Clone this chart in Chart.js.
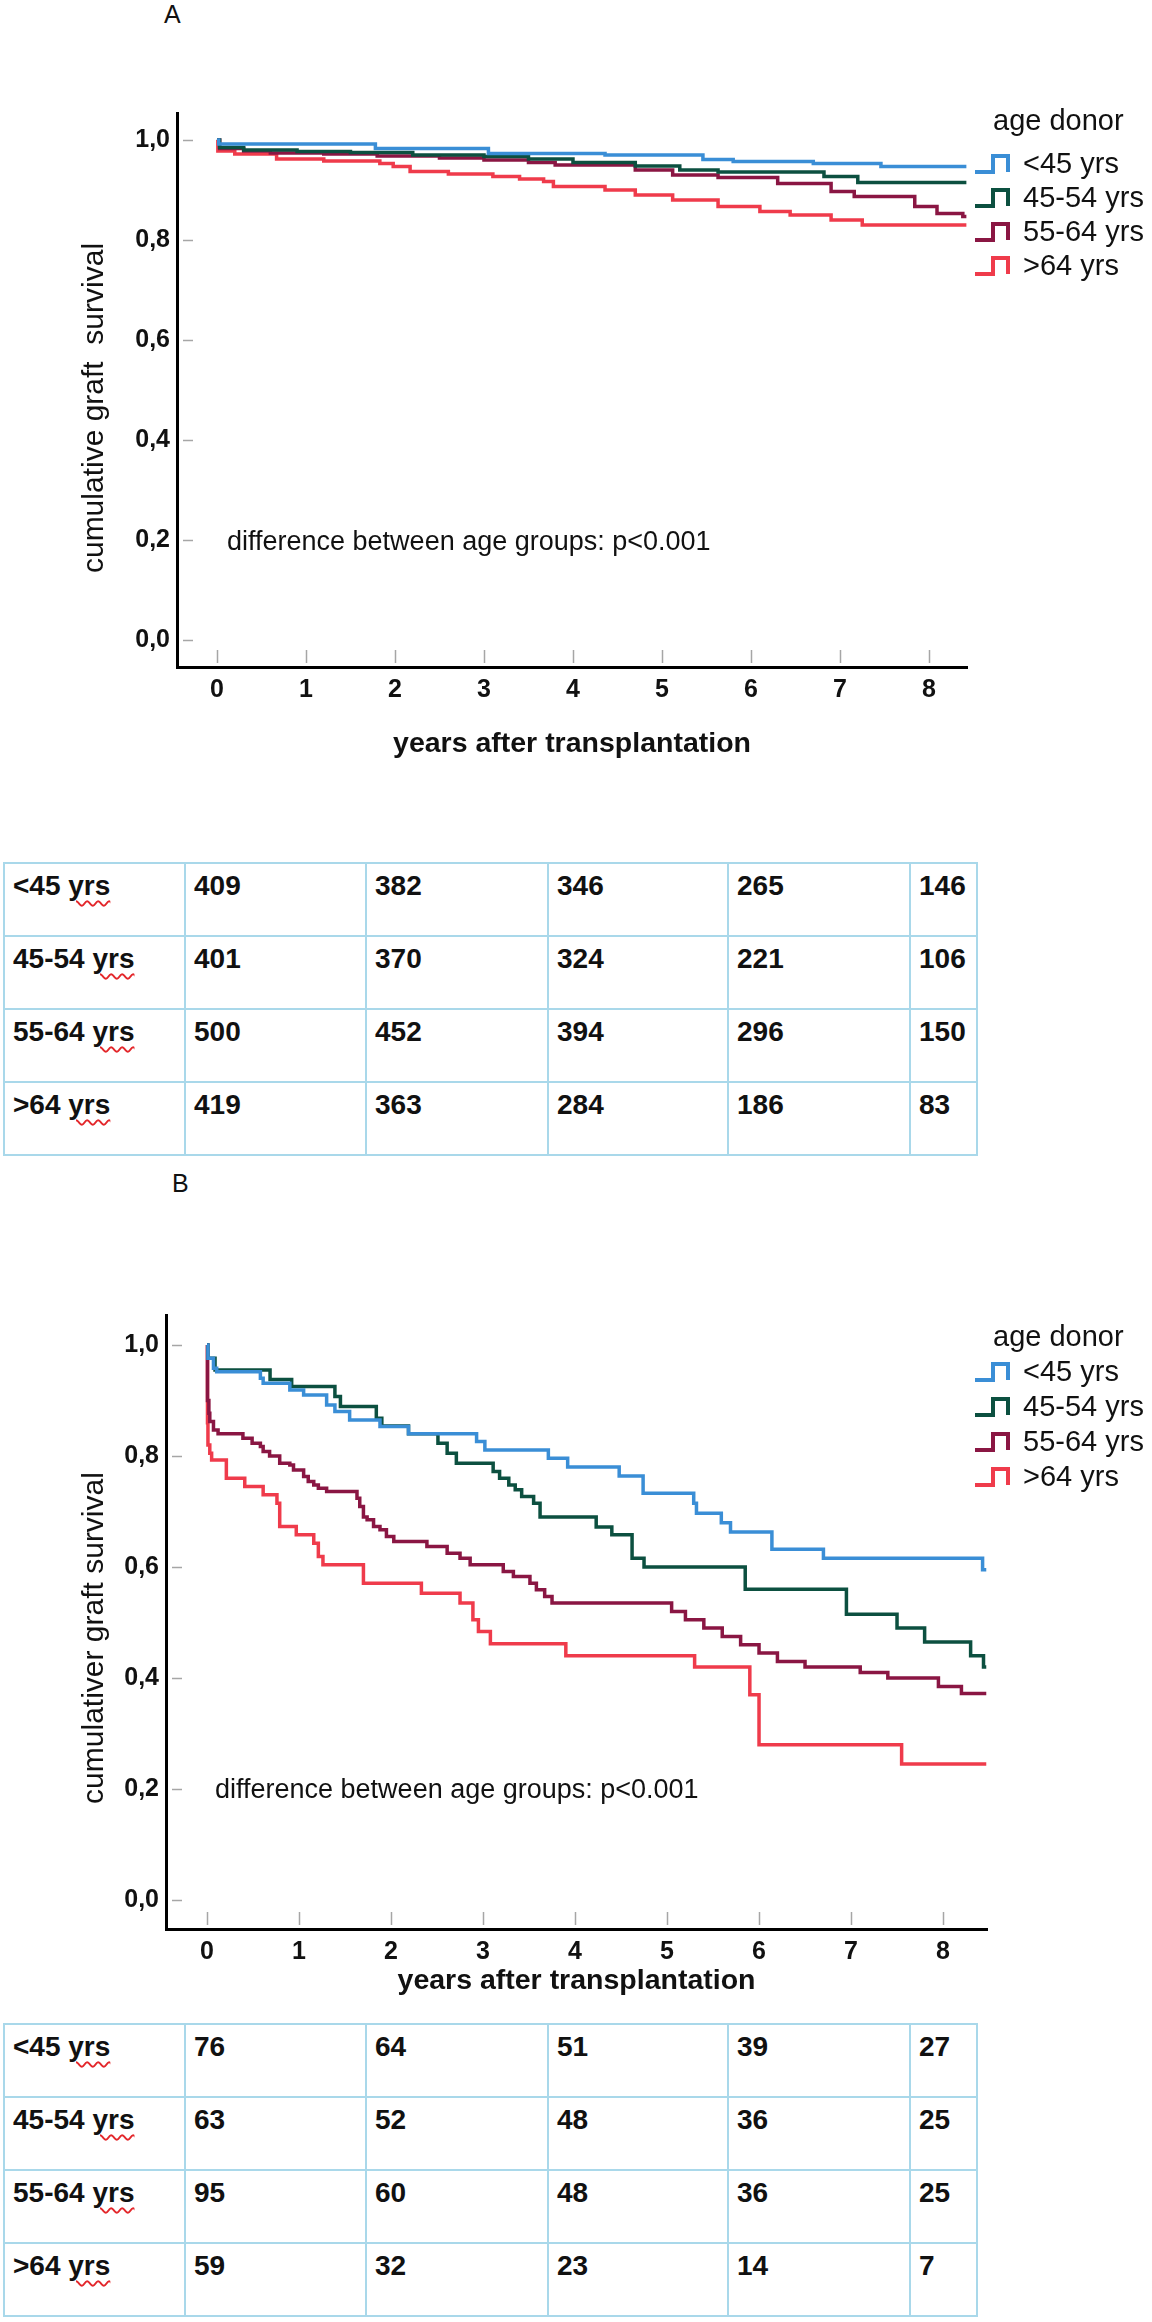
<!DOCTYPE html>
<html><head><meta charset="utf-8">
<script src="https://cdn.jsdelivr.net/npm/chart.js@4.4.1/dist/chart.umd.min.js"></script>
<style>
html,body{margin:0;padding:0;background:#fff;}
body{width:1152px;height:2322px;position:relative;overflow:hidden;font-family:"Liberation Sans",Arial,Helvetica,sans-serif;}
.panel{position:absolute;font-size:25px;line-height:29px;color:#111;}
canvas{position:absolute;left:0;}
table{position:absolute;left:3px;width:973px;border-collapse:collapse;table-layout:fixed;font-weight:bold;font-size:28px;color:#111;}
tr{height:73px;}
td{border:2px solid #a9d8ea;vertical-align:top;padding:6px 0 0 8px;line-height:32px;white-space:nowrap;overflow:hidden;}
.sp{text-decoration:underline wavy #e3262a;text-decoration-thickness:1.5px;text-underline-offset:5px;}
</style></head><body>
<div class="panel" style="left:164px;top:0px;">A</div>
<canvas id="chartA" width="1152" height="800" style="top:0;width:1152px;height:800px"></canvas>
<table id="tabA" style="top:862px"></table>
<div class="panel" style="left:172px;top:1169px;">B</div>
<canvas id="chartB" width="1152" height="830" style="top:1190px;width:1152px;height:830px"></canvas>
<table id="tabB" style="top:2023px"></table>
<script>
// ---------- data ----------
const groups = ['<45 yrs', '45-54 yrs', '55-64 yrs', '>64 yrs'];
const xTickValues = [0, 1, 2, 3, 4, 5, 6, 7, 8];
const yTickValues = [0, 0.2, 0.4, 0.6, 0.8, 1.0];
const legendTitle = 'age donor';
const xAxisTitle = 'years after transplantation';
const noteText = 'difference between age groups: p<0.001';

// Panel A (Kaplan-Meier, cumulative graft survival)
const tA_lt45 = [0, 0.02, 1.78, 3.05, 4.36, 5.46, 5.8, 6.7, 7.46, 8.42];
const sA_lt45 = [1.0, 0.992, 0.983, 0.973, 0.97, 0.961, 0.957, 0.953, 0.947, 0.947];
const tA_45_54 = [0, 0.03, 0.3, 0.9, 1.5, 2.2, 3.0, 3.5, 4.0, 4.7, 5.2, 5.63, 6.82, 7.2, 8.42];
const sA_45_54 = [1.0, 0.985, 0.98, 0.977, 0.975, 0.97, 0.967, 0.962, 0.955, 0.948, 0.94, 0.936, 0.927, 0.915, 0.915];
const tA_55_64 = [0, 0.03, 0.3, 0.6, 1.2, 1.8, 2.5, 3.0, 3.5, 3.8, 4.7, 5.12, 5.63, 6.3, 6.9, 7.16, 7.84, 8.09, 8.38, 8.42];
const sA_55_64 = [1.0, 0.983, 0.978, 0.974, 0.972, 0.968, 0.964, 0.96, 0.955, 0.95, 0.94, 0.93, 0.925, 0.913, 0.897, 0.887, 0.867, 0.853, 0.847, 0.847];
const tA_gt64 = [0, 0.01, 0.2, 0.67, 1.2, 1.83, 1.98, 2.17, 2.6, 3.1, 3.4, 3.67, 3.78, 4.36, 4.7, 5.12, 5.63, 6.1, 6.44, 6.9, 7.25, 8.42];
const sA_gt64 = [1.0, 0.978, 0.972, 0.962, 0.958, 0.953, 0.947, 0.937, 0.932, 0.927, 0.922, 0.917, 0.907, 0.9, 0.89, 0.88, 0.867, 0.857, 0.85, 0.84, 0.83, 0.83];

// Panel B
const tB_lt45 = [0, 0.01, 0.07, 0.105, 0.58, 0.61, 0.90, 1.05, 1.30, 1.39, 1.55, 1.88, 2.19, 2.93, 3.02, 3.71, 3.92, 4.48, 4.74, 5.29, 5.32, 5.59, 5.69, 6.14, 6.70, 8.43, 8.47];
const sB_lt45 = [1.0, 0.976, 0.958, 0.952, 0.94, 0.931, 0.919, 0.91, 0.892, 0.88, 0.865, 0.853, 0.84, 0.826, 0.811, 0.796, 0.78, 0.764, 0.733, 0.715, 0.697, 0.68, 0.663, 0.632, 0.616, 0.595, 0.595];
const tB_45_54 = [0, 0.01, 0.087, 0.685, 0.92, 1.39, 1.45, 1.84, 1.90, 2.19, 2.51, 2.61, 2.71, 3.11, 3.18, 3.28, 3.35, 3.42, 3.55, 3.62, 4.23, 4.40, 4.62, 4.75, 5.85, 6.95, 7.5, 7.8, 8.3, 8.44, 8.47];
const sB_45_54 = [1.0, 0.976, 0.955, 0.938, 0.925, 0.907, 0.889, 0.868, 0.854, 0.84, 0.823, 0.805, 0.787, 0.772, 0.76, 0.748, 0.739, 0.727, 0.715, 0.69, 0.672, 0.658, 0.616, 0.60, 0.56, 0.515, 0.49, 0.465, 0.44, 0.42, 0.42];
const tB_55_64 = [0, 0.005, 0.02, 0.03, 0.07, 0.12, 0.39, 0.49, 0.58, 0.61, 0.68, 0.79, 0.90, 0.94, 1.05, 1.10, 1.16, 1.21, 1.30, 1.63, 1.66, 1.70, 1.74, 1.81, 1.88, 1.95, 2.03, 2.39, 2.61, 2.75, 2.86, 3.22, 3.33, 3.51, 3.58, 3.67, 3.75, 5.05, 5.2, 5.4, 5.6, 5.8, 6.0, 6.2, 6.5, 7.1, 7.4, 7.95, 8.2, 8.47];
const sB_55_64 = [1.0, 0.9, 0.877, 0.862, 0.847, 0.84, 0.832, 0.823, 0.817, 0.808, 0.8, 0.787, 0.784, 0.775, 0.763, 0.754, 0.748, 0.742, 0.736, 0.724, 0.709, 0.69, 0.685, 0.673, 0.667, 0.655, 0.646, 0.637, 0.625, 0.616, 0.604, 0.592, 0.583, 0.571, 0.559, 0.547, 0.535, 0.52, 0.505, 0.49, 0.475, 0.46, 0.445, 0.43, 0.42, 0.41, 0.40, 0.385, 0.372, 0.372];
const tB_gt64 = [0, 0.005, 0.01, 0.03, 0.05, 0.21, 0.41, 0.61, 0.76, 0.79, 0.97, 1.16, 1.21, 1.26, 1.70, 2.33, 2.75, 2.89, 2.95, 3.08, 3.9, 5.3, 5.9, 6.0, 7.55, 8.47];
const sB_gt64 = [1.0, 0.86, 0.82, 0.805, 0.793, 0.76, 0.745, 0.73, 0.715, 0.673, 0.658, 0.643, 0.619, 0.604, 0.571, 0.553, 0.535, 0.505, 0.484, 0.462, 0.44, 0.42, 0.37, 0.28, 0.245, 0.245];

// Numbers at risk tables
const riskA_lt45 = [409, 382, 346, 265, 146];
const riskA_45_54 = [401, 370, 324, 221, 106];
const riskA_55_64 = [500, 452, 394, 296, 150];
const riskA_gt64 = [419, 363, 284, 186, 83];
const riskB_lt45 = [76, 64, 51, 39, 27];
const riskB_45_54 = [63, 52, 48, 36, 25];
const riskB_55_64 = [95, 60, 48, 36, 25];
const riskB_gt64 = [59, 32, 23, 14, 7];

// ---------- styling ----------
const FONT = '"Liberation Sans", Arial, Helvetica, sans-serif';
const colors = ['#3a8ed6', '#0c5040', '#8a1643', '#ef3b4b'];

function zip(t, s) { return t.map((x, i) => ({ x: x, y: s[i] })); }
function makeDatasets(pairs) {
  return pairs.map((p, i) => ({
    label: groups[i], data: zip(p[0], p[1]), stepped: 'before',
    borderColor: colors[i], backgroundColor: colors[i], borderWidth: 3.5,
    pointRadius: 0, fill: false, tension: 0
  }));
}

function decor(geo) {
  return {
    id: 'decor',
    afterDraw(chart) {
      const ctx = chart.ctx, a = chart.chartArea;
      const xs = chart.scales.x, ys = chart.scales.y;
      ctx.save();
      // inner tick marks
      ctx.strokeStyle = '#a6a6a6'; ctx.lineWidth = 1.5;
      yTickValues.forEach(v => {
        const p = Math.round(ys.getPixelForValue(v)) + 0.5;
        ctx.beginPath(); ctx.moveTo(a.left + 6, p); ctx.lineTo(a.left + 16, p); ctx.stroke();
      });
      xTickValues.forEach(v => {
        const p = Math.round(xs.getPixelForValue(v)) + 0.5;
        ctx.beginPath(); ctx.moveTo(p, a.bottom - 17); ctx.lineTo(p, a.bottom - 4); ctx.stroke();
      });
      ctx.fillStyle = '#111';
      // x title
      ctx.font = 'bold 28.5px ' + FONT;
      ctx.textAlign = 'center'; ctx.textBaseline = 'alphabetic';
      ctx.fillText(xAxisTitle, (a.left + a.right) / 2, geo.xTitleY);
      // annotation
      ctx.font = '27px ' + FONT;
      ctx.textAlign = 'left';
      ctx.fillText(noteText, geo.annX, ys.getPixelForValue(0.2) + geo.annDy);
      // legend
      ctx.font = '29px ' + FONT;
      ctx.textBaseline = 'middle';
      ctx.fillText(legendTitle, 993, geo.legTitleY);
      geo.legItemsY.forEach((y, i) => {
        ctx.strokeStyle = colors[i]; ctx.lineWidth = 4; ctx.lineJoin = 'miter'; ctx.lineCap = 'butt';
        ctx.beginPath();
        ctx.moveTo(975, y + 7); ctx.lineTo(993, y + 7); ctx.lineTo(993, y - 9);
        ctx.lineTo(1008, y - 9); ctx.lineTo(1008, y + 7);
        ctx.stroke();
        ctx.fillStyle = '#111';
        ctx.fillText(groups[i], 1023, y);
      });
      // y title
      ctx.translate(geo.yTitleX, geo.yTitleY);
      ctx.rotate(-Math.PI / 2);
      ctx.font = '30px ' + FONT;
      ctx.textAlign = 'center'; ctx.textBaseline = 'alphabetic';
      ctx.fillText(geo.yTitle, 0, 0);
      ctx.restore();
    }
  };
}

function makeChart(id, datasets, geo) {
  return new Chart(document.getElementById(id), {
    type: 'line',
    data: { datasets: datasets },
    options: {
      responsive: false, animation: false, devicePixelRatio: 1,
      layout: { padding: { left: 0, top: geo.top, right: geo.right, bottom: 0 } },
      plugins: { legend: { display: false }, tooltip: { enabled: false }, title: { display: false } },
      scales: {
        x: {
          type: 'linear', min: geo.xmin, max: geo.xmax,
          grid: { display: false, drawTicks: false },
          border: { display: true, color: '#000', width: 3 },
          ticks: { padding: 8, color: '#111', autoSkip: false, maxRotation: 0,
                   font: { family: FONT, size: 25, weight: 'bold' },
                   callback: v => String(v) },
          afterBuildTicks: s => { s.ticks = xTickValues.map(v => ({ value: v })); },
          afterFit: s => { s.height = geo.xh; }
        },
        y: {
          type: 'linear', min: geo.ymin, max: geo.ymax,
          grid: { display: false, drawTicks: false },
          border: { display: true, color: '#000', width: 3 },
          ticks: { padding: 7, color: '#111', autoSkip: false,
                   font: { family: FONT, size: 25, weight: 'bold' },
                   callback: v => Number(v).toFixed(1).replace('.', ',') },
          afterBuildTicks: s => { s.ticks = yTickValues.map(v => ({ value: v })); },
          afterFit: s => { s.width = geo.yw; }
        }
      }
    },
    plugins: [decor(geo)]
  });
}

const geoA = { top: 113, right: 185, yw: 177, xh: 133, xmin: -0.449, xmax: 8.427, ymin: -0.054, ymax: 1.054,
  yTitle: 'cumulative graft  survival', yTitleX: 103, yTitleY: 408, xTitleY: 752, annX: 227, annDy: 10,
  legTitleY: 122, legItemsY: [165, 199, 233, 267] };
const geoB = { top: 125, right: 165, yw: 166, xh: 91, xmin: -0.446, xmax: 8.478, ymin: -0.052, ymax: 1.054,
  yTitle: 'cumulativer graft survival', yTitleX: 103, yTitleY: 448, xTitleY: 799, annX: 215, annDy: 9,
  legTitleY: 148, legItemsY: [183, 218, 253, 288] };

makeChart('chartA', makeDatasets([[tA_lt45, sA_lt45], [tA_45_54, sA_45_54], [tA_55_64, sA_55_64], [tA_gt64, sA_gt64]]), geoA);
makeChart('chartB', makeDatasets([[tB_lt45, sB_lt45], [tB_45_54, sB_45_54], [tB_55_64, sB_55_64], [tB_gt64, sB_gt64]]), geoB);

function buildTable(id, rows) {
  const widths = [181, 181, 182, 180, 182, 67];
  let html = '<colgroup>' + widths.map(w => '<col style="width:' + w + 'px">').join('') + '</colgroup>';
  rows.forEach((r, i) => {
    const lab = groups[i].replace('<', '&lt;').replace('>', '&gt;').replace('yrs', '<span class="sp">yrs</span>');
    html += '<tr><td>' + lab + '</td>' + r.map(v => '<td>' + v + '</td>').join('') + '</tr>';
  });
  document.getElementById(id).innerHTML = html;
}
buildTable('tabA', [riskA_lt45, riskA_45_54, riskA_55_64, riskA_gt64]);
buildTable('tabB', [riskB_lt45, riskB_45_54, riskB_55_64, riskB_gt64]);
</script>
</body></html>
